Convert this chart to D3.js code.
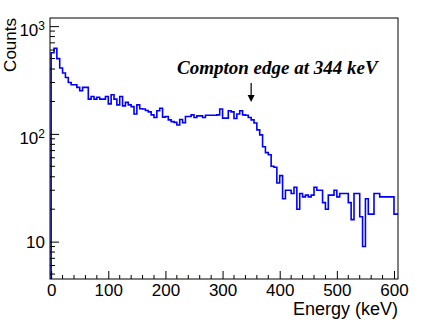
<!DOCTYPE html>
<html>
<head>
<meta charset="utf-8">
<script src="https://cdn.jsdelivr.net/npm/d3@7"></script>
<style>
  body { margin: 0; background: #fff; }
  svg { display: block; }
</style>
</head>
<body>
<svg id="chart" width="436" height="327"></svg>
<script>
// histogram: 5 keV bins starting at 0
var binWidth = 5;
var counts = [
    567, 624, 499, 409, 367, 334, 300, 286, 286, 270,
    251, 270, 270, 210, 222, 210, 219, 210, 210, 222,
    190, 231, 210, 186, 222, 182, 196, 186, 179, 153,
    186, 171, 170, 165, 160, 150, 142, 164, 173, 143,
    145, 135, 130, 128, 121, 136, 127, 145, 145, 150,
    142, 147, 147, 142, 149, 149, 149, 149, 150, 170,
    140, 140, 164, 160, 139, 153, 164, 150, 149, 142,
    135, 126, 109, 98, 76, 67, 64, 50, 49, 35,
    41, 25, 30, 30, 28, 32, 20, 28, 26, 27,
    26, 27, 32, 30, 30, 23, 20, 27, 27, 30,
    26, 28, 28, 28, 23, 16, 28, 28, 17, 9,
    25, 18, 18, 28, 28, 26, 26, 26, 26, 26,
    18, 18
];
var binStart = d3.range(0, counts.length * binWidth, binWidth);

var xTicks = [0, 100, 200, 300, 400, 500, 600];
var yTicks = [10, 100, 1000];
var yTickLabels = [["10", ""], ["10", "2"], ["10", "3"]];
var arrowEnergy = 350;
var noteText = "Compton edge at 344 keV";

var width = 436, height = 327;
var margin = {left: 50, right: 38, top: 18, bottom: 48};
var x0 = margin.left, x1 = width - margin.right;
var y0 = height - margin.bottom, y1 = margin.top;

var svg = d3.select("#chart");

var x = d3.scaleLinear().domain([-2, 607]).range([x0, x1]);
var y = d3.scaleLog().domain([4.5, 1190]).range([y0, y1]);

// clip for the histogram
svg.append("clipPath").attr("id", "frameClip")
    .append("rect")
    .attr("x", x0).attr("y", y1)
    .attr("width", x1 - x0).attr("height", y0 - y1);

// histogram line
var pts = [[binStart[0], 4.5]];
binStart.forEach(function(e, i) { pts.push([e, counts[i]]); });
pts.push([binStart[binStart.length - 1] + binWidth, counts[counts.length - 1]]);

var line = d3.line()
    .x(function(d) { return x(d[0]); })
    .y(function(d) { return y(d[1]); })
    .curve(d3.curveStepAfter);

svg.append("path")
    .datum(pts)
    .attr("clip-path", "url(#frameClip)")
    .attr("fill", "none")
    .attr("stroke", "#0000ff")
    .attr("stroke-width", 1.6)
    .attr("d", line);

// minor ticks
var xMinor = d3.range(0, 607, 20).filter(function(v) { return v % 100 !== 0; });
var yMinor = [];
[1, 10, 100].forEach(function(dec) {
    for (var k = 2; k <= 9; k++) {
        var v = k * dec;
        if (v >= 4.5 && v <= 1190) yMinor.push(v);
    }
});

svg.append("g").selectAll("line").data(xMinor).enter().append("line")
    .attr("x1", function(d) { return x(d); }).attr("x2", function(d) { return x(d); })
    .attr("y1", y0).attr("y2", y0 - 4)
    .attr("stroke", "#000").attr("stroke-width", 1);

svg.append("g").selectAll("line").data(yMinor).enter().append("line")
    .attr("x1", x0).attr("x2", x0 + 5)
    .attr("y1", function(d) { return y(d); }).attr("y2", function(d) { return y(d); })
    .attr("stroke", "#000").attr("stroke-width", 1);

// axes
var xAxis = svg.append("g")
    .attr("transform", "translate(0," + y0 + ")")
    .call(d3.axisBottom(x).tickValues(xTicks).tickSizeInner(-8).tickSizeOuter(0).tickPadding(5));
xAxis.select(".domain").remove();
xAxis.selectAll("text")
    .attr("font-family", "Liberation Sans, Arial, sans-serif")
    .attr("font-size", 17)
    .attr("fill", "#000");

var yAxis = svg.append("g")
    .attr("transform", "translate(" + x0 + ",0)")
    .call(d3.axisLeft(y).tickValues(yTicks).tickSizeInner(-9).tickSizeOuter(0).tickPadding(5).tickFormat(""));
yAxis.select(".domain").remove();
yAxis.selectAll(".tick text").each(function(d, i) {
    var t = d3.select(this)
        .attr("font-family", "Liberation Sans, Arial, sans-serif")
        .attr("font-size", 17)
        .attr("fill", "#000");
    var lab = yTickLabels[i];
    if (lab[1] === "") {
        t.text(lab[0]);
    } else {
        t.attr("dy", "0.55em");
        t.append("tspan").text(lab[0]);
        t.append("tspan").attr("dy", "-0.5em").attr("font-size", 12).text(lab[1]);
    }
});

// frame
svg.append("rect")
    .attr("x", x0).attr("y", y1)
    .attr("width", x1 - x0).attr("height", y0 - y1)
    .attr("fill", "none").attr("stroke", "#000").attr("stroke-width", 1);

// axis titles
svg.append("text")
    .attr("x", x1).attr("y", 315)
    .attr("text-anchor", "end")
    .attr("font-family", "Liberation Sans, Arial, sans-serif")
    .attr("font-size", 18)
    .text("Energy (keV)");

svg.append("text")
    .attr("transform", "translate(16," + y1 + ") rotate(-90)")
    .attr("text-anchor", "end")
    .attr("font-family", "Liberation Sans, Arial, sans-serif")
    .attr("font-size", 17)
    .text("Counts");

// annotation
svg.append("text")
    .attr("x", 177).attr("y", 74)
    .attr("font-family", "Liberation Serif, Times New Roman, serif")
    .attr("font-weight", "bold")
    .attr("font-style", "italic")
    .attr("font-size", 19)
    .text(noteText);

var ax = x(arrowEnergy);
svg.append("line")
    .attr("x1", ax).attr("x2", ax)
    .attr("y1", 83).attr("y2", 96)
    .attr("stroke", "#000").attr("stroke-width", 1.2);
svg.append("path")
    .attr("d", "M" + (ax - 3.5) + ",95 L" + (ax + 3.5) + ",95 L" + ax + ",102 Z")
    .attr("fill", "#000");
</script>
</body>
</html>
